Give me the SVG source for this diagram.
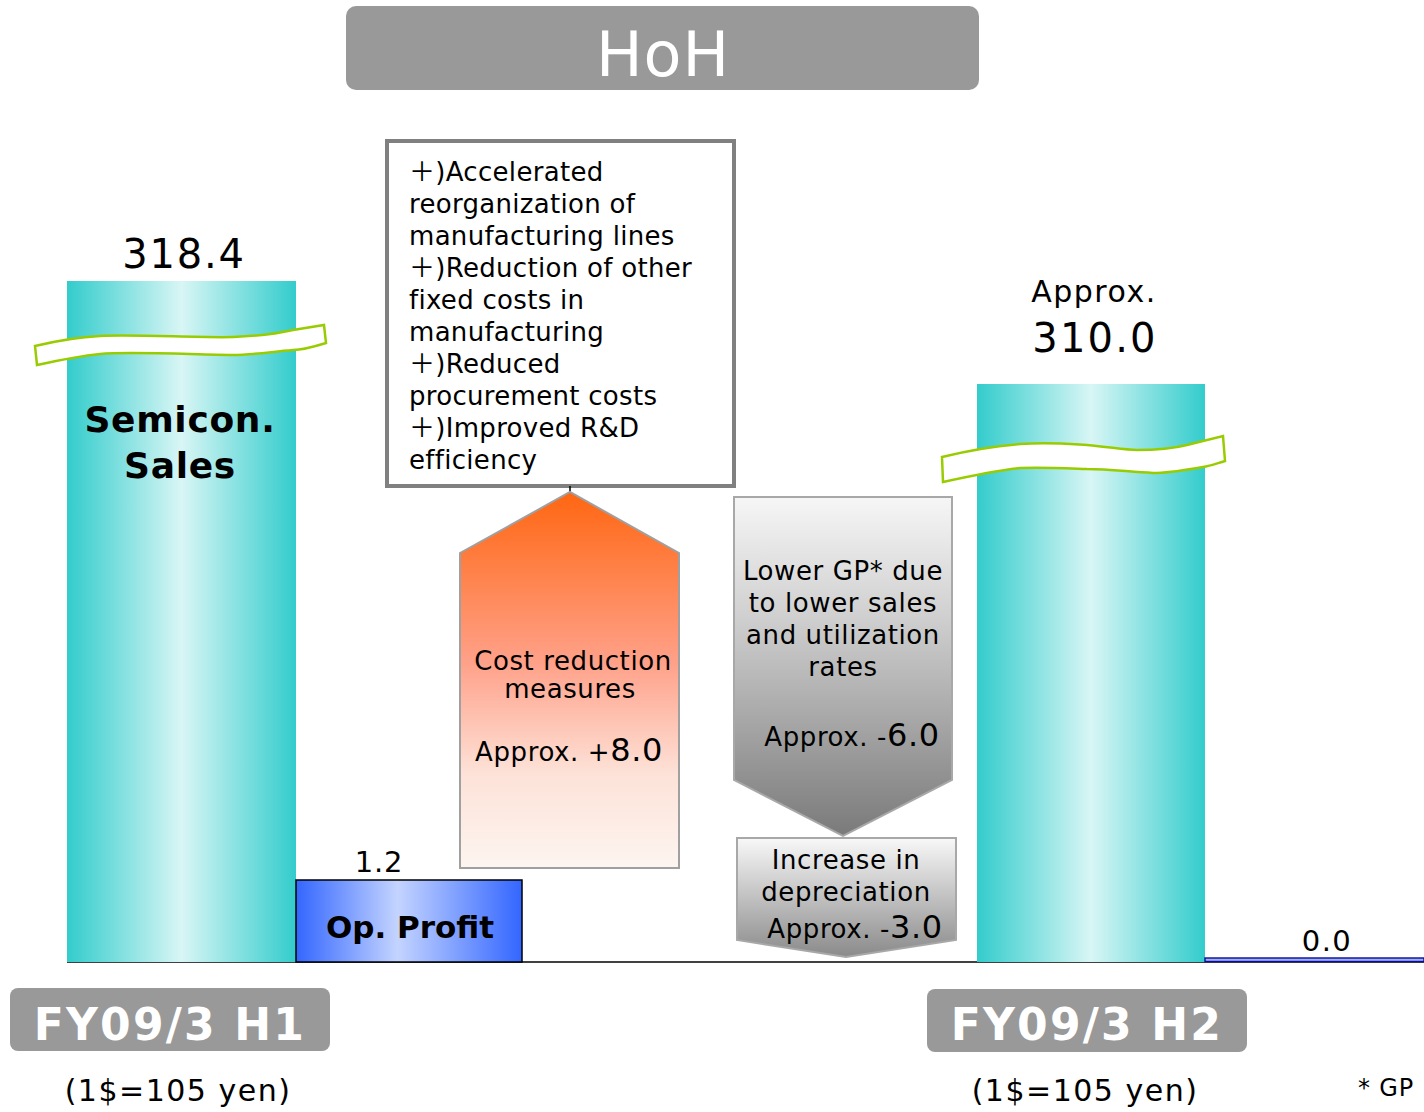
<svg xmlns="http://www.w3.org/2000/svg" width="1424" height="1112" viewBox="0 0 1424 1112">
<defs>
<linearGradient id="teal" x1="0" y1="0" x2="1" y2="0">
<stop offset="0" stop-color="#33cccc"/><stop offset="0.5" stop-color="#d8f6f5"/><stop offset="1" stop-color="#33cccc"/>
</linearGradient>
<linearGradient id="blue" x1="0" y1="0" x2="1" y2="0">
<stop offset="0" stop-color="#3366ff"/><stop offset="0.45" stop-color="#c4d4ff"/><stop offset="1" stop-color="#3366ff"/>
</linearGradient>
<linearGradient id="orange" x1="0" y1="0" x2="0" y2="1">
<stop offset="0" stop-color="#ff6611"/><stop offset="0.45" stop-color="#ffa088"/><stop offset="0.75" stop-color="#fde2d8"/><stop offset="1" stop-color="#fdf5f0"/>
</linearGradient>
<linearGradient id="gray" x1="0" y1="0" x2="0" y2="1">
<stop offset="0" stop-color="#f6f6f6"/><stop offset="0.35" stop-color="#d0d0d0"/><stop offset="1" stop-color="#7a7a7a"/>
</linearGradient>
<linearGradient id="gray2" x1="0" y1="0" x2="0" y2="1">
<stop offset="0" stop-color="#f8f8f8"/><stop offset="1" stop-color="#8a8a8a"/>
</linearGradient>
<style>
text{font-family:"DejaVu Sans","Noto Sans CJK JP",sans-serif;fill:#000}
.c{text-anchor:middle}
.b{font-weight:bold}
.t{font-size:26px;letter-spacing:0.6px}
.wave{fill:#fff;stroke:#99cc00;stroke-width:2.5}
.lbl{fill:#999999}
.w{fill:#fff}
</style>
</defs>

<g id="title">
<rect x="346" y="6" width="633" height="84" rx="10" class="lbl"/>
<text x="663" y="76" class="c w" font-size="62" letter-spacing="1">HoH</text>
</g>

<g id="axis">
<line x1="67" y1="962" x2="1424" y2="962" stroke="#000" stroke-width="1.5"/>
</g>

<g id="bar-h1">
<rect x="67" y="281" width="229" height="681" fill="url(#teal)"/>
<path class="wave" d="M35,346 C60,340 80,337 100,336 C130,334 200,338 233,337 C260,336 280,333 293,330 L324,325 L326,343 C310,348 300,350 293,350 C270,352 250,355 233,355 C200,355 130,351 100,354 C80,356 60,360 37,365 Z"/>
<text x="184" y="268" class="c" font-size="40" letter-spacing="1.8">318.4</text>
<text x="180" y="432" class="c b" font-size="36" letter-spacing="0.7">Semicon.</text>
<text x="180" y="478" class="c b" font-size="36" letter-spacing="0.7">Sales</text>
</g>

<g id="bar-op">
<rect x="296" y="880" width="226" height="82" fill="url(#blue)" stroke="#000" stroke-width="1.5"/>
<text x="410" y="938" class="c b" font-size="31">Op. Profit</text>
<text x="379" y="872" class="c" font-size="29" letter-spacing="0.8">1.2</text>
</g>

<g id="textbox">
<rect x="387" y="141" width="347" height="345" fill="#fff" stroke="#808080" stroke-width="4"/>
<g font-size="26" letter-spacing="0.3">
<text x="409" y="181">＋)Accelerated</text>
<text x="409" y="213">reorganization of</text>
<text x="409" y="245">manufacturing lines</text>
<text x="409" y="277">＋)Reduction of other</text>
<text x="409" y="309">fixed costs in</text>
<text x="409" y="341">manufacturing</text>
<text x="409" y="373">＋)Reduced</text>
<text x="409" y="405">procurement costs</text>
<text x="409" y="437">＋)Improved R&amp;D</text>
<text x="409" y="469">efficiency</text>
</g>
</g>

<g id="connectors">
<line x1="570" y1="486" x2="570" y2="493" stroke="#000" stroke-width="1.5"/>
</g>

<g id="arrow-up">
<polygon points="460,553 570,492 679,553 679,868 460,868" fill="url(#orange)" stroke="#a0a0a0" stroke-width="2"/>
<text x="573" y="670" class="c t">Cost reduction</text>
<text x="570" y="698" class="c t">measures</text>
<text x="569" y="761" class="c t">Approx. +<tspan font-size="32">8.0</tspan></text>
</g>

<g id="arrow-down">
<polygon points="734,497 952,497 952,780 843,836 734,780" fill="url(#gray)" stroke="#a8a8a8" stroke-width="2"/>
<text x="843" y="580" class="c t">Lower GP* due</text>
<text x="843" y="612" class="c t">to lower sales</text>
<text x="843" y="644" class="c t">and utilization</text>
<text x="843" y="676" class="c t">rates</text>
<text x="852" y="746" class="c t">Approx.  -<tspan font-size="32">6.0</tspan></text>
</g>

<g id="arrow-down2">
<polygon points="737,838 956,838 956,940 846,957 737,940" fill="url(#gray2)" stroke="#a8a8a8" stroke-width="2"/>
<text x="846" y="869" class="c t">Increase in</text>
<text x="846" y="901" class="c t">depreciation</text>
<text x="855" y="938" class="c t">Approx. -<tspan font-size="32">3.0</tspan></text>
</g>

<g id="bar-h2">
<rect x="977" y="384" width="228" height="578" fill="url(#teal)"/>
<path class="wave" d="M942,457 C970,450 995,446 1020,444 C1050,442 1070,444 1087,445 C1110,447 1125,450 1137,450 C1160,450 1175,448 1187,445 L1223,436 L1225,461 C1215,464 1210,466 1203,467 C1185,470 1170,473 1153,473 C1130,472 1110,469 1087,469 C1060,468 1040,467 1020,468 C1000,470 970,476 943,482 Z"/>
<text x="1094" y="302" class="c" font-size="30" letter-spacing="1.5">Approx.</text>
<text x="1095" y="352" class="c" font-size="40" letter-spacing="2.2">310.0</text>
</g>

<g id="bar-op2">
<rect x="1205" y="958" width="219" height="3.5" fill="#9fb3ee" stroke="#0a0aa0" stroke-width="1.4"/>
<text x="1327" y="951" class="c" font-size="29" letter-spacing="1.5">0.0</text>
</g>

<g id="label-h1">
<rect x="10" y="988" width="320" height="63" rx="8" class="lbl"/>
<text x="170" y="1040" class="c b w" font-size="44" letter-spacing="2.2">FY09/3 H1</text>
<text x="178" y="1101" class="c" font-size="30" letter-spacing="1.5">(1$=105 yen)</text>
</g>

<g id="label-h2">
<rect x="927" y="989" width="320" height="63" rx="8" class="lbl"/>
<text x="1087" y="1040" class="c b w" font-size="44" letter-spacing="2.2">FY09/3 H2</text>
<text x="1085" y="1101" class="c" font-size="30" letter-spacing="1.5">(1$=105 yen)</text>
</g>

<g id="footnote">
<text x="1358" y="1096" font-size="24" letter-spacing="0.8">*  GP</text>
</g>
</svg>
